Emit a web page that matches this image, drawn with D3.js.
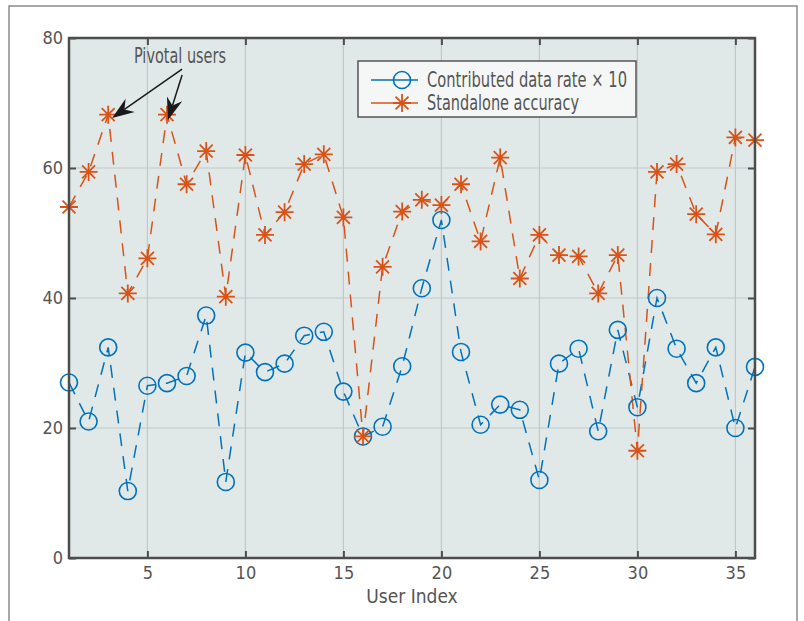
<!DOCTYPE html>
<html>
<head>
<meta charset="utf-8">
<script src="https://cdn.jsdelivr.net/npm/d3@7"></script>
<style>
  body { margin: 0; background: #fff; }
  svg text { font-family: "DejaVu Sans Condensed", "DejaVu Sans", sans-serif; font-stretch: condensed; fill: #555; }
</style>
</head>
<body>
<script>
'use strict';

// data
const users = d3.range(1, 37);
const dataRate = [27.0, 21.0, 32.4, 10.3, 26.5, 26.9, 28.0, 37.3, 11.7, 31.6,
  28.6, 29.9, 34.2, 34.8, 25.6, 18.7, 20.2, 29.5, 41.5, 52.0,
  31.7, 20.5, 23.6, 22.8, 12.0, 29.9, 32.2, 19.5, 35.1, 23.2,
  40.0, 32.2, 26.9, 32.4, 20.0, 29.4];
const accuracy = [54.0, 59.4, 68.2, 40.7, 46.1, 68.2, 57.5, 62.6, 40.2, 62.0,
  49.7, 53.2, 60.6, 62.1, 52.4, 18.7, 44.8, 53.3, 55.1, 54.3,
  57.5, 48.7, 61.6, 43.0, 49.7, 46.6, 46.4, 40.7, 46.6, 16.5,
  59.4, 60.6, 52.9, 49.8, 64.7, 64.3];
const xTicks = [5, 10, 15, 20, 25, 30, 35];
const yTicks = [0, 20, 40, 60, 80];
const legendNames = ['Contributed data rate \u00d7 10', 'Standalone accuracy'];
const pivotal = [3, 6];

const W = 804, H = 621;
const margin = {top: 38, right: 49, bottom: 63, left: 69};
const blue = '#0072bd', orange = '#d95319';

const svg = d3.select('body').append('svg')
    .attr('width', W)
    .attr('height', H);

// outer figure frame
svg.append('rect')
    .attr('x', 9).attr('y', 6)
    .attr('width', 788).attr('height', 640)
    .attr('fill', 'none')
    .attr('stroke', '#8c8c8c')
    .attr('stroke-width', 1.5);

let x = d3.scaleLinear().domain([1, 36]).range([margin.left, W - margin.right]);
let y = d3.scaleLinear().domain([0, 80]).range([H - margin.bottom, margin.top]);

// plot background
svg.append('rect')
    .attr('x', x(1)).attr('y', y(80))
    .attr('width', x(36) - x(1)).attr('height', y(0) - y(80))
    .attr('fill', '#e1e9e8');

// grid
let grid = svg.append('g').attr('stroke', '#c2c7c7').attr('stroke-width', 1.2);
grid.selectAll('.gx').data(xTicks).enter().append('line')
    .attr('x1', d => x(d)).attr('x2', d => x(d))
    .attr('y1', y(0)).attr('y2', y(80));
grid.selectAll('.gy').data(yTicks.slice(1, -1)).enter().append('line')
    .attr('x1', x(1)).attr('x2', x(36))
    .attr('y1', d => y(d)).attr('y2', d => y(d));

// axes, ticks pointing inwards on all four sides
const tk = 7;
svg.append('g')
    .attr('transform', 'translate(0,' + y(0) + ')')
    .call(d3.axisBottom(x).tickValues(xTicks).tickSizeInner(-tk).tickSizeOuter(0).tickPadding(8))
    .call(g => g.select('.domain').remove());
svg.append('g')
    .attr('transform', 'translate(0,' + y(80) + ')')
    .call(d3.axisTop(x).tickValues(xTicks).tickSizeInner(-tk).tickSizeOuter(0).tickFormat(''))
    .call(g => g.select('.domain').remove());
svg.append('g')
    .attr('transform', 'translate(' + x(1) + ',0)')
    .call(d3.axisLeft(y).tickValues(yTicks).tickSizeInner(-tk).tickSizeOuter(0).tickPadding(6))
    .call(g => g.select('.domain').remove());
svg.append('g')
    .attr('transform', 'translate(' + x(36) + ',0)')
    .call(d3.axisRight(y).tickValues(yTicks).tickSizeInner(-tk).tickSizeOuter(0).tickFormat(''))
    .call(g => g.select('.domain').remove());

svg.selectAll('.tick line').attr('stroke', '#4d4d4d').attr('stroke-width', 2);
svg.selectAll('.tick text').style('font-size', '18px').attr('fill', '#666');

svg.append('text')
    .attr('x', (x(1) + x(36)) / 2)
    .attr('y', 603)
    .attr('text-anchor', 'middle')
    .style('font-size', '19px')
    .text('User Index');

// series
function starPath(s) {
  const d = s * 0.72;
  return 'M' + (-s) + ',0H' + s + 'M0,' + (-s) + 'V' + s +
    'M' + (-d) + ',' + (-d) + 'L' + d + ',' + d +
    'M' + (-d) + ',' + d + 'L' + d + ',' + (-d);
}

let line = d3.line()
    .x((d, i) => x(users[i]))
    .y(d => y(d));

const plot = svg.append('g');

plot.append('path')
    .datum(dataRate)
    .attr('d', line)
    .attr('fill', 'none')
    .attr('stroke', blue)
    .attr('stroke-width', 1.5)
    .attr('stroke-dasharray', '13,10');

plot.append('path')
    .datum(accuracy)
    .attr('d', line)
    .attr('fill', 'none')
    .attr('stroke', orange)
    .attr('stroke-width', 1.5)
    .attr('stroke-dasharray', '13,10');

plot.selectAll('.circ').data(dataRate).enter().append('circle')
    .attr('cx', (d, i) => x(users[i]))
    .attr('cy', d => y(d))
    .attr('r', 8.5)
    .attr('fill', 'none')
    .attr('stroke', blue)
    .attr('stroke-width', 1.6);

plot.selectAll('.star').data(accuracy).enter().append('path')
    .attr('transform', (d, i) => 'translate(' + x(users[i]) + ',' + y(d) + ')')
    .attr('d', starPath(9))
    .attr('fill', 'none')
    .attr('stroke', orange)
    .attr('stroke-width', 1.8);

// axes box
svg.append('rect')
    .attr('x', x(1)).attr('y', y(80))
    .attr('width', x(36) - x(1)).attr('height', y(0) - y(80))
    .attr('fill', 'none')
    .attr('stroke', '#4d4d4d')
    .attr('stroke-width', 2.5);

// legend
const lg = svg.append('g').attr('transform', 'translate(358,61)');
lg.append('rect')
    .attr('width', 278).attr('height', 56)
    .attr('fill', '#f5f7f7')
    .attr('stroke', '#555')
    .attr('stroke-width', 1.5);
const rows = [{c: blue, n: legendNames[0], m: 'circle'}, {c: orange, n: legendNames[1], m: 'star'}];
rows.forEach(function (r, i) {
  const cy = 19 + i * 23;
  lg.append('line').attr('x1', 13).attr('x2', 30).attr('y1', cy).attr('y2', cy)
      .attr('stroke', r.c).attr('stroke-width', 1.5);
  lg.append('line').attr('x1', 50).attr('x2', 60).attr('y1', cy).attr('y2', cy)
      .attr('stroke', r.c).attr('stroke-width', 1.5);
  if (r.m === 'circle') {
    lg.append('circle').attr('cx', 44).attr('cy', cy).attr('r', 8.5)
        .attr('fill', 'none').attr('stroke', r.c).attr('stroke-width', 1.6);
  } else {
    lg.append('path').attr('transform', 'translate(44,' + cy + ')').attr('d', starPath(9))
        .attr('fill', 'none').attr('stroke', r.c).attr('stroke-width', 1.8);
  }
  lg.append('line').attr('x1', 30).attr('x2', 50).attr('y1', cy).attr('y2', cy)
      .attr('stroke', r.c).attr('stroke-width', 1.5);
  lg.append('text')
      .attr('class', 'lgtext')
      .attr('x', 69).attr('y', cy)
      .attr('dy', '0.35em')
      .style('font-size', '21px')
      .attr('fill', '#333')
      .text(r.n);
});
// squeeze legend text to the narrow width it has in the figure
const lgWidths = [200, 152];
lg.selectAll('.lgtext')
    .attr('textLength', (d, i) => lgWidths[i])
    .attr('lengthAdjust', 'spacingAndGlyphs');

// "Pivotal users" annotation
svg.append('text')
    .attr('x', 180).attr('y', 63)
    .attr('text-anchor', 'middle')
    .attr('textLength', 92)
    .attr('lengthAdjust', 'spacingAndGlyphs')
    .style('font-size', '21px')
    .attr('fill', '#333')
    .text('Pivotal users');

const starts = [[6.77, 75.2], [6.77, 74.3]];
const tips = [[pivotal[0] + 0.2, 67.7], [pivotal[1] + 0.05, 67.4]];
tips.forEach(function (t, i) {
  const x0 = x(starts[i][0]), y0 = y(starts[i][1]);
  const x1 = x(t[0]), y1 = y(t[1]);
  const ang = Math.atan2(y1 - y0, x1 - x0);
  const L = 22, Wd = 8, back = 15;
  const ux = Math.cos(ang), uy = Math.sin(ang);
  const px = -uy, py = ux;
  const bx = x1 - ux * L, by = y1 - uy * L;
  const nx = x1 - ux * back, ny = y1 - uy * back;
  svg.append('line')
      .attr('x1', x0).attr('y1', y0).attr('x2', nx).attr('y2', ny)
      .attr('stroke', '#1a1a1a').attr('stroke-width', 1.5);
  svg.append('path')
      .attr('d', 'M' + x1 + ',' + y1 +
        'L' + (bx + px * Wd) + ',' + (by + py * Wd) +
        'L' + nx + ',' + ny +
        'L' + (bx - px * Wd) + ',' + (by - py * Wd) + 'Z')
      .attr('fill', '#1a1a1a');
});
</script>
</body>
</html>
